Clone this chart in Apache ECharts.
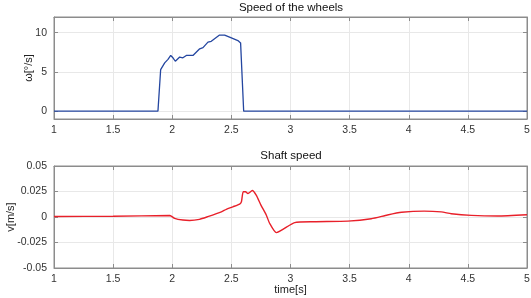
<!DOCTYPE html>
<html><head><meta charset="utf-8">
<script src="https://cdn.jsdelivr.net/npm/echarts@6/dist/echarts.min.js"></script>
<style>html,body{margin:0;padding:0;background:#fff}#c{width:531px;height:298px}</style>
</head><body><div id="c"></div>
<script>
const wheelTime = [1, 1.879, 1.902, 1.936, 1.964, 1.987, 2.006, 2.026, 2.063, 2.09, 2.119, 2.175, 2.232, 2.26, 2.302, 2.33, 2.40, 2.443, 2.5, 2.555, 2.578, 2.604, 5];
const wheelSpeed = [0, 0, 5.3, 6.15, 6.6, 7.1, 6.8, 6.36, 6.9, 6.8, 7.1, 7.1, 7.95, 8.1, 8.8, 8.9, 9.7, 9.7, 9.35, 9.0, 8.7, 0, 0];
const shaftTime = [1, 1.5, 1.98, 2.02, 2.09, 2.147, 2.23, 2.30, 2.415, 2.457, 2.513, 2.57, 2.585, 2.60, 2.62, 2.64, 2.677, 2.71, 2.75, 2.795, 2.823, 2.88, 3.035, 3.2, 3.485, 3.683, 3.82, 3.94, 4.13, 4.275, 4.36, 4.53, 4.75, 5.0];
const shaftSpeed = [0.0005, 0.0007, 0.0015, -0.0013, -0.003, -0.0034, -0.0023, 0.0003, 0.005, 0.0075, 0.01, 0.0127, 0.015, 0.0247, 0.0247, 0.023, 0.026, 0.0214, 0.0117, 0.002, -0.0061, -0.0153, -0.0055, -0.0046, -0.004, -0.0017, 0.002, 0.0046, 0.0058, 0.005, 0.0032, 0.0016, 0.001, 0.0022];
const xTicks = [1, 1.5, 2, 2.5, 3, 3.5, 4, 4.5, 5];
const wheelTicks = [0, 5, 10];
const shaftTicks = [-0.05, -0.025, 0, 0.025, 0.05];

const font = 'Liberation Sans';
const axisCol = '#8c8c8c';
const grids = [
  {left: 54, right: 4, top: 17, height: 102, show: true, borderColor: axisCol, borderWidth: 1, outerBoundsMode: 'none', containLabel: false},
  {left: 54, right: 4, top: 166, height: 102, show: true, borderColor: axisCol, borderWidth: 1, outerBoundsMode: 'none', containLabel: false}
];
function xAx(gi, main) {
  return {
    type: 'value', gridIndex: gi, min: 1, max: 5, interval: 0.5,
    position: main ? 'bottom' : 'top',
    name: (main && gi === 1) ? 'time[s]' : '', nameLocation: 'middle', nameGap: 16, nameMoveOverlap: false,
    nameTextStyle: {fontFamily: font, fontSize: 11, color: '#222'},
    axisLine: {show: true, onZero: false, lineStyle: {color: axisCol}},
    axisTick: {show: true, inside: true, length: 4, customValues: xTicks, lineStyle: {color: axisCol}},
    axisLabel: {show: main, customValues: xTicks, fontFamily: font, fontSize: 10.5, color: '#333', margin: 6,
      hideOverlap: false, showMinLabel: true, showMaxLabel: true,
      formatter: v => String(v)},
    splitLine: {show: main, lineStyle: {color: '#e8e8e8'}}
  };
}
function yAx(gi, main, min, max, ticks, name, gap) {
  return {
    type: 'value', gridIndex: gi, min: min, max: max,
    position: main ? 'left' : 'right',
    name: main ? name : '', nameLocation: 'middle', nameRotate: 90, nameGap: gap, nameMoveOverlap: false,
    nameTextStyle: {fontFamily: font, fontSize: 11, color: '#222'},
    axisLine: {show: true, onZero: false, lineStyle: {color: axisCol}},
    axisTick: {show: true, inside: true, length: 4, customValues: ticks, lineStyle: {color: axisCol}},
    axisLabel: {show: main, customValues: ticks, fontFamily: font, fontSize: 10.5, color: '#333', margin: 7,
      hideOverlap: false, formatter: v => String(v)},
    splitLine: {show: main, lineStyle: {color: '#e8e8e8'}}
  };
}
const option = {
  animation: false,
  title: [
    {text: 'Speed of the wheels', left: 291, top: 2, padding: 0, textAlign: 'center',
     textStyle: {fontFamily: font, fontSize: 11.5, fontWeight: 'normal', color: '#111'}},
    {text: 'Shaft speed', left: 291, top: 150, padding: 0, textAlign: 'center',
     textStyle: {fontFamily: font, fontSize: 11.5, fontWeight: 'normal', color: '#111'}}
  ],
  grid: grids,
  xAxis: [xAx(0, true), xAx(0, false), xAx(1, true), xAx(1, false)],
  yAxis: [
    yAx(0, true, -1, 12, wheelTicks, 'ω[°/s]', 20),
    yAx(0, false, -1, 12, wheelTicks, '', 0),
    yAx(1, true, -0.05, 0.05, shaftTicks, 'v[m/s]', 38),
    yAx(1, false, -0.05, 0.05, shaftTicks, '', 0)
  ],
  series: [
    {type: 'line', xAxisIndex: 0, yAxisIndex: 0, showSymbol: false,
     data: wheelTime.map((t, i) => [t, wheelSpeed[i]]),
     lineStyle: {color: '#2446a0', width: 1.3}, itemStyle: {color: '#2446a0'}},
    {type: 'line', xAxisIndex: 2, yAxisIndex: 2, showSymbol: false, smooth: 0.2,
     data: shaftTime.map((t, i) => [t, shaftSpeed[i]]),
     lineStyle: {color: '#e8202a', width: 1.4}, itemStyle: {color: '#e8202a'}}
  ]
};
echarts.init(document.getElementById('c')).setOption(option);
</script></body></html>
